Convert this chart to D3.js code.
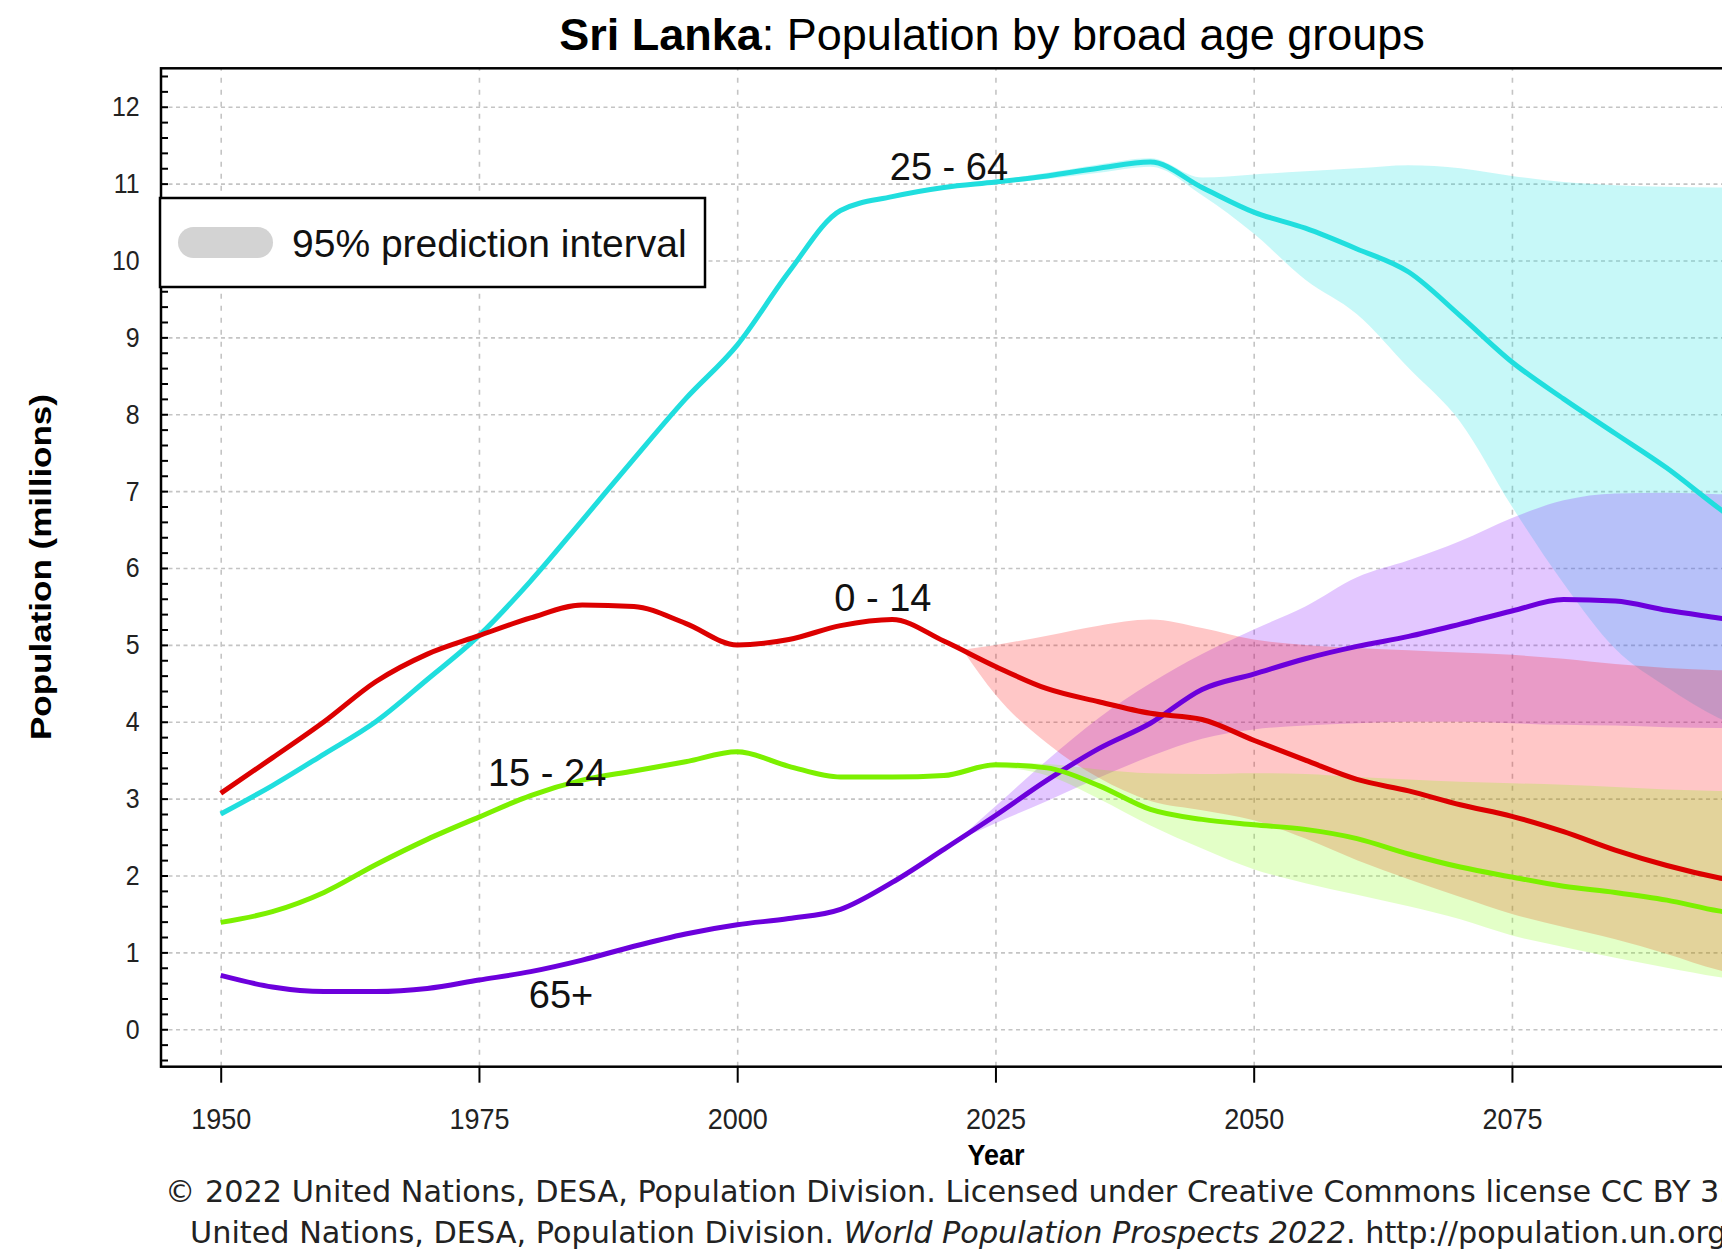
<!DOCTYPE html>
<html lang="en">
<head>
<meta charset="UTF-8">
<script src="https://cdnjs.cloudflare.com/ajax/libs/d3/7.8.4/d3.min.js"></script>
<title>Sri Lanka: Population by broad age groups</title>
<style>
  body { margin: 0; background: #fff; overflow: hidden; }
  text { font-family: "Liberation Sans", Arial, sans-serif; }
</style>
</head>
<body>
<script>
// estimates (millions) by year
const years = [1950, 1955, 1960, 1965, 1970, 1975, 1980, 1985, 1990, 1995, 2000, 2005, 2010, 2015, 2020,
  2025, 2030, 2035, 2040, 2045, 2050, 2055, 2060, 2065, 2070, 2075, 2080, 2085, 2090, 2095, 2100]
const age0to14 = [3.07, 3.53, 4.0, 4.52, 4.88, 5.12, 5.35, 5.52, 5.5, 5.28, 5.0, 5.07, 5.25, 5.33, 5.05,
  4.72, 4.43, 4.26, 4.11, 4.03, 3.76, 3.5, 3.25, 3.1, 2.92, 2.77, 2.57, 2.33, 2.13, 1.97, 1.85]
const age15to24 = [1.39, 1.53, 1.78, 2.14, 2.47, 2.76, 3.04, 3.24, 3.36, 3.48, 3.61, 3.42, 3.28, 3.28, 3.3,
  3.44, 3.4, 3.17, 2.86, 2.73, 2.66, 2.6, 2.48, 2.28, 2.11, 1.98, 1.86, 1.78, 1.68, 1.54, 1.45]
const age25to64 = [2.8, 3.17, 3.58, 4.0, 4.55, 5.12, 5.83, 6.62, 7.42, 8.2, 8.9, 9.85, 10.65, 10.83, 10.95,
  11.02, 11.1, 11.2, 11.28, 10.95, 10.63, 10.42, 10.15, 9.85, 9.28, 8.68, 8.2, 7.75, 7.3, 6.78, 6.3]
const age65plus = [0.7, 0.55, 0.49, 0.49, 0.53, 0.64, 0.75, 0.9, 1.08, 1.24, 1.36, 1.44, 1.56, 1.91, 2.34,
  2.78, 3.24, 3.65, 3.98, 4.42, 4.62, 4.82, 4.98, 5.11, 5.27, 5.44, 5.59, 5.57, 5.45, 5.35, 5.25]

// 95% prediction intervals
const bandYears = [2022, 2025, 2030, 2035, 2040, 2045, 2050, 2055, 2060, 2065, 2070, 2075, 2080, 2085, 2090, 2095, 2100]
const lo0to14 = [4.9, 4.35, 3.72, 3.27, 2.97, 2.85, 2.72, 2.48, 2.2, 1.95, 1.72, 1.5, 1.33, 1.17, 0.98, 0.77, 0.65]
const hi0to14 = [4.94, 5.0, 5.12, 5.25, 5.33, 5.22, 5.07, 5.0, 4.96, 4.93, 4.9, 4.87, 4.82, 4.75, 4.7, 4.67, 4.65]
const lo15to24 = [3.34, 3.4, 3.3, 3.0, 2.65, 2.35, 2.08, 1.9, 1.75, 1.6, 1.43, 1.22, 1.07, 0.93, 0.8, 0.68, 0.6]
const hi15to24 = [3.36, 3.47, 3.45, 3.38, 3.33, 3.32, 3.33, 3.32, 3.28, 3.25, 3.22, 3.2, 3.18, 3.15, 3.12, 3.1, 3.08]
const lo25to64 = [10.98, 11.0, 11.06, 11.14, 11.22, 10.85, 10.35, 9.75, 9.3, 8.6, 7.9, 6.8, 5.8, 4.95, 4.45, 4.05, 3.8]
const hi25to64 = [10.98, 11.04, 11.14, 11.25, 11.33, 11.08, 11.12, 11.16, 11.2, 11.24, 11.2, 11.1, 11.02, 10.98, 10.96, 10.95, 10.95]
const lo65plus = [2.5, 2.68, 2.97, 3.27, 3.55, 3.78, 3.9, 3.95, 3.98, 4.0, 4.0, 3.98, 3.96, 3.95, 3.93, 3.92, 3.9]
const hi65plus = [2.54, 2.9, 3.5, 4.05, 4.5, 4.88, 5.2, 5.5, 5.88, 6.1, 6.35, 6.65, 6.88, 6.97, 6.98, 6.96, 6.93]

const xTicks = [1950, 1975, 2000, 2025, 2050, 2075, 2100]
const yTicks = [0, 1, 2, 3, 4, 5, 6, 7, 8, 9, 10, 11, 12]

const series = [
  { name: "25 - 64", values: age25to64, lo: lo25to64, hi: hi25to64, color: "#20dede", band: "#00e0e0", lx: 2020.5, ly: 11.05 },
  { name: "65+", values: age65plus, lo: lo65plus, hi: hi65plus, color: "#6c00dc", band: "#8000ff", lx: 1982.95, ly: 0.28 },
  { name: "0 - 14", values: age0to14, lo: lo0to14, hi: hi0to14, color: "#dc0000", band: "#ff0000", lx: 2014.1, ly: 5.44 },
  { name: "15 - 24", values: age15to24, lo: lo15to24, hi: hi15to24, color: "#7cf000", band: "#80ff00", lx: 1981.6, ly: 3.165 }
]

const W = 1722, H = 1249
const plotLeft = 161, plotTop = 68.3, plotBottom = 1066.7, plotRight = 1827

let svg = d3.select("body").append("svg")
  .attr("width", W)
  .attr("height", H)

let x = d3.scaleLinear().domain([1944.22, 2105.5]).range([plotLeft, plotRight])
let y = d3.scaleLinear().domain([-0.487, 12.5]).range([plotBottom, plotTop])

svg.append("clipPath").attr("id", "plot")
  .append("rect").attr("x", plotLeft).attr("y", plotTop)
  .attr("width", plotRight - plotLeft).attr("height", plotBottom - plotTop)

// grid
let hGrid = svg.append("g")
  .attr("transform", `translate(${plotLeft},0)`)
  .call(d3.axisLeft(y).tickValues(yTicks).tickSize(-(plotRight - plotLeft)).tickFormat(""))
hGrid.select(".domain").remove()
hGrid.selectAll("line").attr("stroke", "#c4c4c4").attr("stroke-width", 1.6).attr("stroke-dasharray", "4,3.5")

let vGrid = svg.append("g")
  .attr("transform", `translate(0,${plotBottom})`)
  .call(d3.axisBottom(x).tickValues(xTicks).tickSize(-(plotBottom - plotTop)).tickFormat(""))
vGrid.select(".domain").remove()
vGrid.selectAll("line").attr("stroke", "#c4c4c4").attr("stroke-width", 1.6).attr("stroke-dasharray", "5,7")

// bands and lines
let plot = svg.append("g").attr("clip-path", "url(#plot)")

let area = d3.area()
  .x(d => x(d[0]))
  .y0(d => y(d[1]))
  .y1(d => y(d[2]))
  .curve(d3.curveMonotoneX)

plot.selectAll("path.band").data(series).enter().append("path")
  .attr("class", "band")
  .attr("d", s => area(d3.zip(bandYears, s.lo, s.hi)))
  .attr("fill", s => s.band)
  .attr("fill-opacity", 0.22)

let line = d3.line()
  .x(d => x(d[0]))
  .y(d => y(d[1]))
  .curve(d3.curveMonotoneX)

plot.selectAll("path.trend").data(series).enter().append("path")
  .attr("class", "trend")
  .attr("d", s => line(d3.zip(years, s.values)))
  .attr("fill", "none")
  .attr("stroke", s => s.color)
  .attr("stroke-width", 5)
  .attr("stroke-linejoin", "round")

// frame
svg.append("rect")
  .attr("x", plotLeft).attr("y", plotTop)
  .attr("width", plotRight - plotLeft).attr("height", plotBottom - plotTop)
  .attr("fill", "none").attr("stroke", "#000").attr("stroke-width", 2.5)

// y axis: minor ticks every 0.2, labels on integers
let minor = svg.append("g")
  .attr("transform", `translate(${plotLeft},0)`)
  .call(d3.axisLeft(y).tickValues(d3.range(-0.4, 12.41, 0.2)).tickSize(-7).tickFormat(""))
minor.select(".domain").remove()
minor.selectAll("line").attr("stroke", "#000").attr("stroke-width", 2)

let yAxis = svg.append("g")
  .attr("transform", `translate(${plotLeft},0)`)
  .call(d3.axisLeft(y).tickValues(yTicks).tickSize(0).tickPadding(24).tickFormat(d3.format("d")))
yAxis.select(".domain").remove()
yAxis.selectAll("text")
  .attr("font-size", 28).attr("fill", "#222")
  .attr("font-family", "'Liberation Sans', Arial, sans-serif")
  .attr("transform", "scale(0.89,1)")

// x axis
let xAxis = svg.append("g")
  .attr("transform", `translate(0,${plotBottom})`)
  .call(d3.axisBottom(x).tickValues(xTicks).tickSize(16).tickPadding(25).tickFormat(d3.format("d")))
xAxis.select(".domain").remove()
xAxis.selectAll("line").attr("stroke", "#000").attr("stroke-width", 2)
xAxis.selectAll("text")
  .attr("font-size", 30).attr("fill", "#222")
  .attr("font-family", "'Liberation Sans', Arial, sans-serif")
  .attr("transform", "scale(0.9,1)")

// curve labels
svg.selectAll("text.lbl").data(series).enter().append("text")
  .attr("class", "lbl")
  .attr("x", s => x(s.lx))
  .attr("y", s => y(s.ly))
  .attr("text-anchor", "middle")
  .attr("font-size", 38)
  .attr("fill", "#111")
  .text(s => s.name)

// legend
let legend = svg.append("g")
legend.append("rect")
  .attr("x", 160).attr("y", 198).attr("width", 545).attr("height", 89)
  .attr("fill", "#fff").attr("stroke", "#000").attr("stroke-width", 2.5)
legend.append("rect")
  .attr("x", 178).attr("y", 227).attr("width", 95).attr("height", 31).attr("rx", 15.5)
  .attr("fill", "#d3d3d3")
legend.append("text")
  .attr("x", 292).attr("y", 257)
  .attr("font-size", 39).attr("fill", "#111")
  .text("95% prediction interval")

// titles
let title = svg.append("text")
  .attr("x", 992).attr("y", 50)
  .attr("text-anchor", "middle")
  .attr("font-size", 45).attr("fill", "#000")
title.append("tspan").attr("font-weight", "bold").text("Sri Lanka")
title.append("tspan").text(": Population by broad age groups")

svg.append("text")
  .attr("transform", `translate(996,1165) scale(0.93,1)`)
  .attr("text-anchor", "middle")
  .attr("font-size", 29).attr("font-weight", "bold")
  .text("Year")

svg.append("text")
  .attr("transform", `translate(51,567) rotate(-90) scale(1,0.85)`)
  .attr("text-anchor", "middle")
  .attr("font-size", 35).attr("font-weight", "bold")
  .text("Population (millions)")

// source notes
let foot = svg.append("g")
  .attr("font-size", 30.3).attr("fill", "#222")
foot.append("text").attr("x", 165).attr("y", 1202)
  .style("font-family", "'DejaVu Sans', Verdana, sans-serif")
  .text("\u00A9 2022 United Nations, DESA, Population Division. Licensed under Creative Commons license CC BY 3.0 IGO.")
let f2 = foot.append("text").attr("x", 190).attr("y", 1243)
  .style("font-family", "'DejaVu Sans', Verdana, sans-serif")
f2.append("tspan").text("United Nations, DESA, Population Division. ")
f2.append("tspan").attr("font-style", "italic").text("World Population Prospects 2022")
f2.append("tspan").text(". http://population.un.org/wpp/")
</script>
</body>
</html>
